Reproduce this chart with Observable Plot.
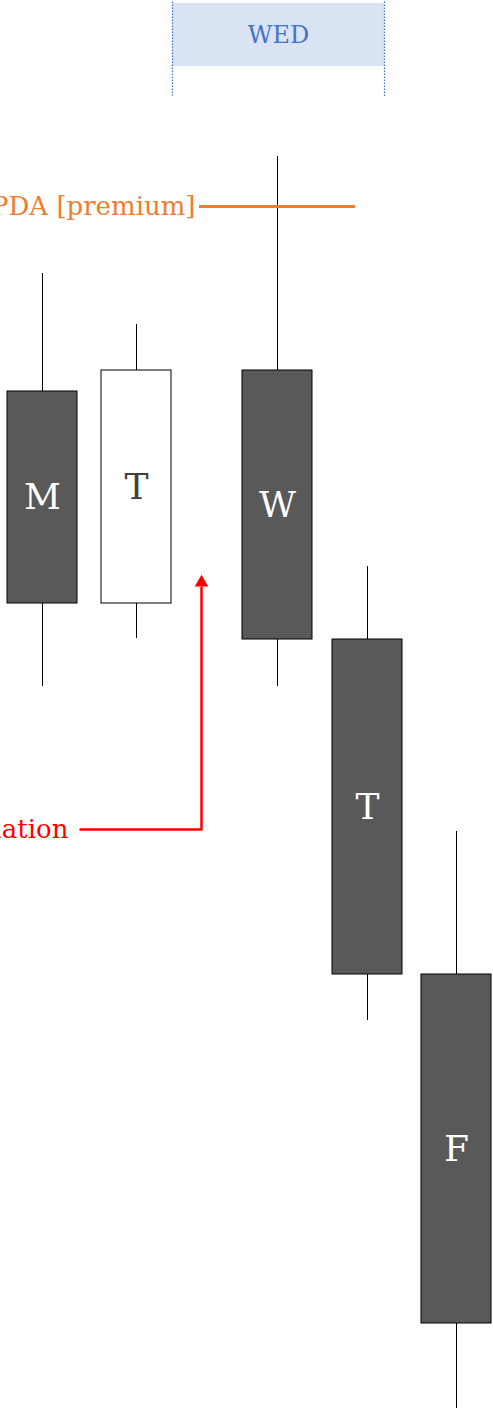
<!DOCTYPE html>
<html>
<head>
<meta charset="utf-8">
<script src="https://cdn.jsdelivr.net/npm/d3@7"></script>
<script src="https://cdn.jsdelivr.net/npm/@observablehq/plot@0.6"></script>
<style>
  html, body { margin: 0; padding: 0; background: #fff; }
  #chart svg { display: block; }
</style>
</head>
<body>
<div id="chart"></div>
<script>
// Candles: position slot (x), labels and OHLC price values
const slots  = [42, 136, 277, 367, 456];
const labels = ["M", "T", "W", "T", "F"];
const opens  = [1020, 808, 1041, 772, 437];
const highs  = [1138, 1087, 1255, 845, 580];
const lows   = [725, 773, 725, 391, 3];
const closes = [808, 1041, 772, 437, 88];
const halfWidth = 35;

// Day session box (Wednesday)
const sessionLabel = "WED";
const sessionStart = 172, sessionEnd = 384;
const sessionTop = 1408, sessionBottom = 1345, sessionLineEnd = 1315;

// PDA level
const pdaLabel = "PDA [premium]";
const pdaLevel = 1205;
const pdaStart = 199, pdaEnd = 355;

// Annotation arrow
const noteLabel = "Manipulation";
const notePath = [[80, 582], [201, 582], [201, 824]];
const noteTip = [201, 829];

const candles = slots.map((x, i) => ({
  x, label: labels[i], open: opens[i], high: highs[i], low: lows[i], close: closes[i],
  bull: closes[i] > opens[i]
}));

const serif = "DejaVu Serif";

const chart = Plot.plot({
  width: 493,
  height: 1411,
  margin: 0,
  x: {domain: [0, 493], axis: null},
  y: {domain: [0, 1411], axis: null},
  marks: [
    // session box
    Plot.rect([{x1: sessionStart, x2: sessionEnd, y1: sessionBottom, y2: sessionTop}],
      {x1: "x1", x2: "x2", y1: "y1", y2: "y2", fill: "#dae3f3"}),
    Plot.ruleX([sessionStart, sessionEnd], {y1: sessionLineEnd, y2: 1411, stroke: "#4472c4", strokeWidth: 1.2, strokeDasharray: "1.5,1.5"}),
    Plot.text([sessionLabel], {x: (sessionStart + sessionEnd) / 2, y: (sessionTop + sessionBottom) / 2, text: d => d,
      fill: "#4472c4", fontSize: 24, fontFamily: serif}),
    // wicks
    Plot.ruleX(candles, {x: "x", y1: "low", y2: "high", stroke: "#000", strokeWidth: 1}),
    // bodies
    Plot.rect(candles, {
      x1: d => d.x - halfWidth, x2: d => d.x + halfWidth,
      y1: d => Math.min(d.open, d.close), y2: d => Math.max(d.open, d.close),
      fill: d => d.bull ? "#ffffff" : "#595959", stroke: "#000", strokeWidth: 1
    }),
    Plot.text(candles, {
      x: "x", y: d => (d.open + d.close) / 2, text: "label",
      fill: d => d.bull ? "#404040" : "#ffffff", fontSize: 36, fontFamily: serif
    }),
    // PDA level
    Plot.ruleY([pdaLevel], {x1: pdaStart, x2: pdaEnd, stroke: "#ed7d31", strokeWidth: 3}),
    Plot.text([pdaLabel], {x: pdaStart - 4, y: pdaLevel, text: d => d, textAnchor: "end",
      fill: "#ed7d31", fontSize: 26, fontFamily: serif}),
    // annotation arrow
    Plot.line(notePath, {x: d => d[0], y: d => d[1], stroke: "#ff0000", strokeWidth: 2.5}),
    Plot.dot([noteTip], {x: d => d[0], y: d => d[1], symbol: "triangle", r: 5, fill: "#ff0000", stroke: "none"}),
    Plot.text([noteLabel], {x: notePath[0][0] - 12, y: notePath[0][1], text: d => d, textAnchor: "end",
      fill: "#ff0000", fontSize: 26, fontFamily: serif})
  ]
});

document.getElementById("chart").appendChild(chart);
</script>
</body>
</html>
